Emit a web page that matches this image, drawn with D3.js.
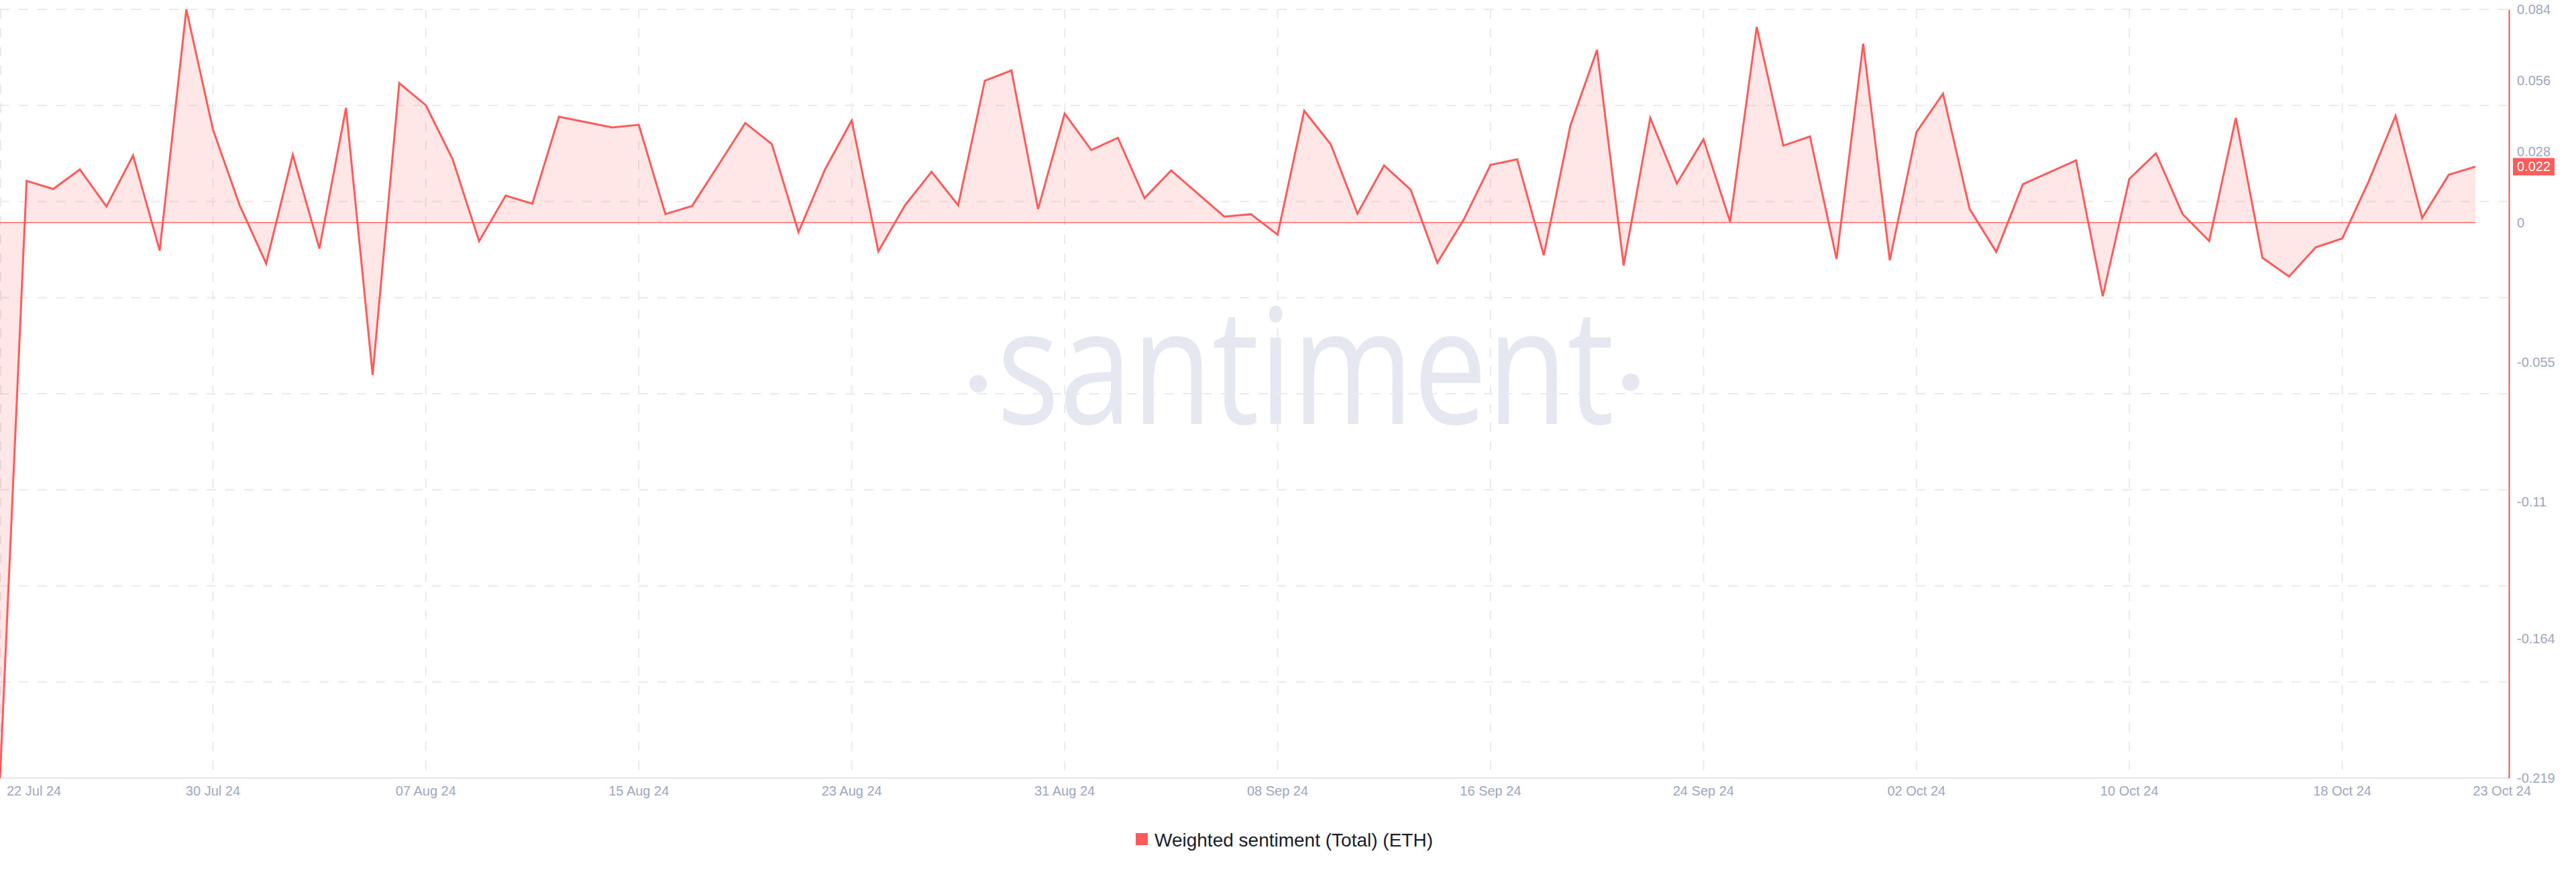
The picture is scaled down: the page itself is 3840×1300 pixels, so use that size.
<!DOCTYPE html>
<html>
<head>
<meta charset="utf-8">
<script src="https://cdn.jsdelivr.net/npm/d3@7"></script>
<style>
  html, body { margin: 0; padding: 0; background: #ffffff; }
  svg { display: block; }
</style>
</head>
<body>
<svg id="chart" width="3840" height="1300"></svg>
<script>
// ---- data ----
const startDate = "2024-07-22";
const endDate = "2024-10-23";
const seriesName = "Weighted sentiment (Total) (ETH)";
const sentimentValues = [
  -0.219, 0.0164, 0.0132, 0.0209, 0.0063, 0.0264, -0.0111, 0.084, 0.0367, 0.0069,
  -0.0162, 0.0267, -0.0103, 0.0452, -0.0601, 0.0549, 0.0462, 0.0251, -0.0074, 0.0106,
  0.0074, 0.0417, 0.0396, 0.0375, 0.0385, 0.0033, 0.0065, 0.0228, 0.0392, 0.0309,
  -0.0038, 0.0210, 0.0402, -0.0114, 0.0068, 0.0200, 0.0068, 0.0559, 0.0599, 0.0053,
  0.0429, 0.0286, 0.0334, 0.0096, 0.0205, 0.0114, 0.0023, 0.0033, -0.0048, 0.0440,
  0.0308, 0.0035, 0.0225, 0.0129, -0.0159, 0.0013, 0.0227, 0.0249, -0.0129, 0.0382,
  0.0680, -0.0169, 0.0412, 0.0154, 0.0328, 0.0003, 0.0771, 0.0303, 0.0339, -0.0144,
  0.0705, -0.0149, 0.0356, 0.0508, 0.0053, -0.0116, 0.0151, 0.0198, 0.0245, -0.0291,
  0.0172, 0.0273, 0.0033, -0.0073, 0.0412, -0.0139, -0.0213, -0.0098, -0.0063, 0.0164,
  0.0420, 0.0018, 0.0188, 0.0220
];
const yTickValues = [0.084, 0.056, 0.028, 0, -0.055, -0.11, -0.164, -0.219];
const yTickLabels = ["0.084", "0.056", "0.028", "0", "-0.055", "-0.11", "-0.164", "-0.219"];
const xTickDates = ["2024-07-22", "2024-07-30", "2024-08-07", "2024-08-15", "2024-08-23",
  "2024-08-31", "2024-09-08", "2024-09-16", "2024-09-24", "2024-10-02", "2024-10-10", "2024-10-18", "2024-10-23"];
const xTickLabels = ["22 Jul 24", "30 Jul 24", "07 Aug 24", "15 Aug 24", "23 Aug 24",
  "31 Aug 24", "08 Sep 24", "16 Sep 24", "24 Sep 24", "02 Oct 24", "10 Oct 24", "18 Oct 24", "23 Oct 24"];
const lastValueLabel = "0.022";

// ---- layout ----
const parse = d3.utcParse("%Y-%m-%d");
const t0 = parse(startDate), t1 = parse(endDate);
const dates = d3.utcDay.range(t0, d3.utcDay.offset(t1, 1));
const data = dates.map((d, i) => ({ date: d, value: sentimentValues[i] }));

const plotLeft = 0, plotRight = 3740, plotTop = 14, plotBottom = 1160;
const lineColor = "#ff5b5b";
const axisTextColor = "#9ea6c1";
const gridColor = "#e9eaef";
const font = "'Liberation Sans', Arial, Helvetica, sans-serif";

const x = d3.scaleUtc().domain([t0, t1]).range([0, 3690]);
const y = d3.scaleLinear().domain([-0.219, 0.084]).range([plotBottom, plotTop]);

const svg = d3.select("#chart");

// watermark
const wm = svg.append("g").attr("fill", "#e5e8f0");
wm.append("text")
  .attr("x", 1486).attr("y", 632)
  .attr("font-family", "'Open Sans', 'Noto Sans', sans-serif")
  .attr("font-size", 241)
  .attr("textLength", 920)
  .attr("lengthAdjust", "spacingAndGlyphs")
  .text("santiment");
wm.append("circle").attr("cx", 1458).attr("cy", 572).attr("r", 13);
wm.append("circle").attr("cx", 2431).attr("cy", 570).attr("r", 13);

// horizontal grid: evenly spaced
const gridG = svg.append("g");
const nH = 8;
d3.range(nH).forEach(i => {
  const gy = plotTop + (plotBottom - plotTop) * i / nH;
  gridG.append("line")
    .attr("x1", plotLeft).attr("x2", plotRight)
    .attr("y1", gy).attr("y2", gy)
    .attr("stroke", gridColor).attr("stroke-width", 2)
    .attr("stroke-dasharray", "14,14");
});
// vertical grid at x ticks (excluding last)
xTickDates.slice(0, -1).forEach(ds => {
  const gx = Math.max(1, x(parse(ds)));
  gridG.append("line")
    .attr("x1", gx).attr("x2", gx)
    .attr("y1", plotTop).attr("y2", plotBottom)
    .attr("stroke", gridColor).attr("stroke-width", 2)
    .attr("stroke-dasharray", "14,14");
});
// bottom axis line
gridG.append("line")
  .attr("x1", plotLeft).attr("x2", plotRight)
  .attr("y1", plotBottom).attr("y2", plotBottom)
  .attr("stroke", "#e6e6ea").attr("stroke-width", 2);

// area + line
const area = d3.area()
  .x(d => x(d.date))
  .y0(y(0))
  .y1(d => y(d.value));
svg.append("path").datum(data)
  .attr("d", area)
  .attr("fill", lineColor).attr("fill-opacity", 0.15);

svg.append("line")
  .attr("x1", x(t0)).attr("x2", x(t1))
  .attr("y1", y(0)).attr("y2", y(0))
  .attr("stroke", lineColor).attr("stroke-width", 1.5).attr("stroke-opacity", 0.9);

const line = d3.line().x(d => x(d.date)).y(d => y(d.value));
svg.append("path").datum(data)
  .attr("d", line)
  .attr("fill", "none")
  .attr("stroke", lineColor)
  .attr("stroke-width", 3)
  .attr("stroke-linejoin", "miter");

// right axis
const yAxis = d3.axisRight(y)
  .tickValues(yTickValues)
  .tickFormat((d, i) => yTickLabels[i])
  .tickSize(0)
  .tickPadding(12);
const yAxisG = svg.append("g")
  .attr("transform", `translate(${plotRight},0)`)
  .call(yAxis);
yAxisG.select(".domain")
  .attr("stroke", "#e25858").attr("stroke-width", 2);
yAxisG.selectAll("text")
  .attr("fill", axisTextColor)
  .attr("font-family", font)
  .attr("font-size", 20);

// last value badge
const lastVal = sentimentValues[sentimentValues.length - 1];
svg.append("rect")
  .attr("x", plotRight + 6).attr("y", y(lastVal) - 13)
  .attr("width", 62).attr("height", 26)
  .attr("fill", lineColor);
svg.append("text")
  .attr("x", plotRight + 12).attr("y", y(lastVal))
  .attr("dy", "0.35em")
  .attr("fill", "#ffffff")
  .attr("font-family", font)
  .attr("font-size", 20)
  .text(lastValueLabel);

// x axis labels
const xAxisG = svg.append("g");
xTickDates.forEach((ds, i) => {
  const px = x(parse(ds));
  let anchor = "middle", tx = px;
  if (i === 0) { anchor = "start"; tx = 10; }
  if (i === xTickDates.length - 1) { anchor = "end"; tx = 3773; }
  xAxisG.append("text")
    .attr("x", tx).attr("y", 1179)
    .attr("dy", "0.35em")
    .attr("text-anchor", anchor)
    .attr("fill", axisTextColor)
    .attr("font-family", font)
    .attr("font-size", 20)
    .text(xTickLabels[i]);
});

// legend
const legend = svg.append("g");
legend.append("rect")
  .attr("x", 1693).attr("y", 1242)
  .attr("width", 18).attr("height", 18)
  .attr("fill", lineColor);
legend.append("text")
  .attr("x", 1721).attr("y", 1252)
  .attr("dy", "0.35em")
  .attr("fill", "#1a1d2b")
  .attr("font-family", font)
  .attr("font-size", 28)
  .text(seriesName);
</script>
</body>
</html>
